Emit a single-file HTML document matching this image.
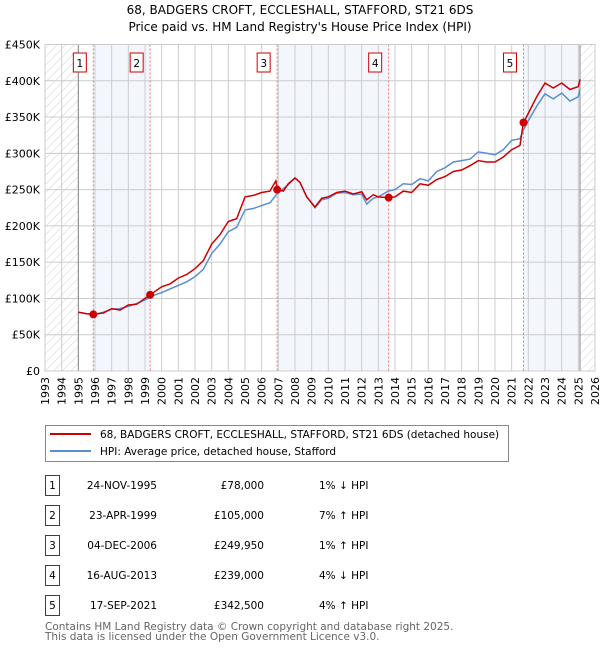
<!DOCTYPE html>
<html><head><meta charset="utf-8"><style>
body{margin:0;background:#fff;font-family:"DejaVu Sans","Liberation Sans",sans-serif;}
svg text{font-family:"DejaVu Sans","Liberation Sans",sans-serif;}
</style></head><body>
<svg id="c" width="600" height="650" xmlns="http://www.w3.org/2000/svg">
<defs><pattern id="hatch" width="6" height="6" patternUnits="userSpaceOnUse" patternTransform="rotate(45)"><line x1="0" y1="0" x2="0" y2="6" stroke="#d0d0d0" stroke-width="1"/></pattern></defs>
<text x="300" y="14" text-anchor="middle" font-size="12">68, BADGERS CROFT, ECCLESHALL, STAFFORD, ST21 6DS</text>
<text x="300" y="31" text-anchor="middle" font-size="12">Price paid vs. HM Land Registry's House Price Index (HPI)</text>
<g id="plot"></g>
<g>
<rect x="45.5" y="425.5" width="463" height="36" fill="#fff" stroke="#888"/>
<line x1="50" y1="434" x2="91" y2="434" stroke="#cc0000" stroke-width="2"/>
<text x="100" y="438" font-size="10.5">68, BADGERS CROFT, ECCLESHALL, STAFFORD, ST21 6DS (detached house)</text>
<line x1="50" y1="451" x2="91" y2="451" stroke="#5b8fd0" stroke-width="2"/>
<text x="100" y="455" font-size="10.5">HPI: Average price, detached house, Stafford</text>
</g>
<g id="tbl" font-size="10.5"></g>
<text x="45" y="630" font-size="10.5" fill="#666">Contains HM Land Registry data © Crown copyright and database right 2025.</text>
<text x="45" y="640" font-size="10.5" fill="#666">This data is licensed under the Open Government Licence v3.0.</text>
</svg>
<script>
const hpiYears=[1995.0,1995.5,1996,1996.5,1997,1997.5,1998,1998.5,1999,1999.5,2000,2000.5,2001,2001.5,2002,2002.5,2003,2003.5,2004,2004.5,2005,2005.5,2006,2006.5,2007,2007.5,2008,2008.3,2008.7,2009.2,2009.6,2010,2010.5,2011,2011.5,2012,2012.3,2012.7,2013,2013.6,2014,2014.5,2015,2015.5,2016,2016.5,2017,2017.5,2018,2018.5,2019,2019.5,2020,2020.5,2021,2021.5,2021.7,2022,2022.5,2023,2023.5,2024,2024.5,2025,2025.1];
const hpiValues=[81,79,78,81,85,86,89,93,98,104,108,113,118,123,130,140,162,175,192,198,222,224,228,232,246,255,266,260,240,225,236,238,245,246,243,244,230,238,240,248,250,258,257,265,262,275,280,288,290,292,302,300,298,305,318,320,332,345,365,382,375,383,372,378,388];
const redYears=[1995.0,1995.5,1995.9,1996.5,1997,1997.5,1998,1998.5,1999.3,2000,2000.5,2001,2001.5,2002,2002.5,2003,2003.5,2004,2004.5,2005,2005.5,2006,2006.5,2006.85,2006.95,2007.3,2007.6,2008,2008.3,2008.7,2009.2,2009.6,2010,2010.5,2011,2011.5,2012,2012.3,2012.7,2013,2013.6,2014,2014.5,2015,2015.5,2016,2016.5,2017,2017.5,2018,2018.5,2019,2019.5,2020,2020.5,2021,2021.5,2021.7,2022,2022.5,2023,2023.5,2024,2024.5,2025,2025.1];
const redValues=[81,79,78,80,86,84,91,92,105,116,120,128,133,141,152,175,188,206,210,240,242,246,248,262,250,248,258,266,260,240,226,238,240,246,248,244,247,236,243,240,239,240,248,246,258,256,264,268,275,277,283,290,288,288,295,305,311,342,355,378,397,390,397,388,392,402];
const saleYears=[1995.9,1999.31,2006.93,2013.62,2021.71];
const saleValues=[78,105,249.95,239,342.5];
const saleLabels=["1","2","3","4","5"];
const saleDates=["24-NOV-1995","23-APR-1999","04-DEC-2006","16-AUG-2013","17-SEP-2021"];
const salePrices=["£78,000","£105,000","£249,950","£239,000","£342,500"];
const saleHpi=["1% ↓ HPI","7% ↑ HPI","1% ↑ HPI","4% ↓ HPI","4% ↑ HPI"];
const yTicks=[0,50,100,150,200,250,300,350,400,450];
const yTickLabels=["£0","£50K","£100K","£150K","£200K","£250K","£300K","£350K","£400K","£450K"];

const X0=45,X1=595,Y0=371,Y1=44.5,xmin=1993,xmax=2026,ymax=450;
const x=v=>X0+(v-xmin)/(xmax-xmin)*(X1-X0);
const y=v=>Y0-v/ymax*(Y0-Y1);
const NS="http://www.w3.org/2000/svg";
const plot=document.getElementById('plot');
function mk(t,a,p){const e=document.createElementNS(NS,t);for(const k in a)e.setAttribute(k,a[k]);(p||plot).appendChild(e);return e;}
[[0,1],[2,3]].forEach(([a,b])=>{const r=mk('rect',{x:x(saleYears[a]),y:Y1,width:x(saleYears[b])-x(saleYears[a]),height:Y0-Y1,fill:'#eef3fc',opacity:0.7});
});
{const r=mk('rect',{x:x(saleYears[4]),y:Y1,width:x(2025.1)-x(saleYears[4]),height:Y0-Y1,fill:'#eef3fc',opacity:0.7});
}
{const h1=mk('rect',{x:X0,y:Y1,width:x(1995)-X0,height:Y0-Y1,fill:'url(#hatch)'});
const h2=mk('rect',{x:x(2025.1),y:Y1,width:X1-x(2025.1),height:Y0-Y1,fill:'url(#hatch)'});}
for(let yr=1993;yr<=2026;yr++){const l=mk('line',{x1:x(yr),x2:x(yr),y1:Y1,y2:Y0,stroke:'#ccc','stroke-width':1});

const t=mk('text',{x:0,y:0,'font-size':11,'text-anchor':'end',transform:`translate(${x(yr)+4},${Y0+6}) rotate(-90)`});t.textContent=yr;
}
yTicks.forEach((v,i)=>{const l=mk('line',{x1:X0,x2:X1,y1:y(v),y2:y(v),stroke:'#ccc','stroke-width':1});

const t=mk('text',{x:X0-5,y:y(v)+4,'font-size':11,'text-anchor':'end'});t.textContent=yTickLabels[i];
});
mk('line',{x1:x(1995),x2:x(1995),y1:Y1,y2:Y0,stroke:'#888'});
mk('line',{x1:x(2025.1),x2:x(2025.1),y1:Y1,y2:Y0,stroke:'#888'});
saleYears.forEach((s,i)=>{const l=mk('line',{x1:x(s),x2:x(s),y1:Y1,y2:Y0,stroke:'#f07070','stroke-dasharray':'2,2','stroke-width':1});

const b=mk('rect',{x:x(s)-20,y:53,width:13,height:19,fill:'#fff',stroke:'#cc0000'});

const t=mk('text',{x:x(s)-13.5,y:67,'font-size':10.5,'text-anchor':'middle'});t.textContent=saleLabels[i];
});
const pts=(xs,vs)=>xs.map((a,i)=>x(a).toFixed(1)+','+y(vs[i]).toFixed(1)).join(' ');
const hp=mk('polyline',{points:pts(hpiYears,hpiValues),fill:'none',stroke:'#5b8fd0','stroke-width':1.5});

const rp=mk('polyline',{points:pts(redYears,redValues),fill:'none',stroke:'#cc0000','stroke-width':1.5});

saleYears.forEach((s,i)=>{const c=mk('circle',{cx:x(s),cy:y(saleValues[i]),r:4,fill:'#cc0000'});
});
mk('rect',{x:X0,y:Y1,width:X1-X0,height:Y0-Y1,fill:'none',stroke:'#ccc'});
const tbl=document.getElementById('tbl');
saleLabels.forEach((lab,i)=>{const yy=483+i*30;
const b=mk('rect',{x:45.5,y:yy-7.5,width:14,height:20,fill:'#fff',stroke:'#cc0000'},tbl);
const t0=mk('text',{x:52.5,y:yy+6,'text-anchor':'middle'},tbl);t0.textContent=lab;
const t1=mk('text',{x:157,y:yy+6,'text-anchor':'end'},tbl);t1.textContent=saleDates[i];
const t2=mk('text',{x:264,y:yy+6,'text-anchor':'end'},tbl);t2.textContent=salePrices[i];
const t3=mk('text',{x:319,y:yy+6},tbl);t3.textContent=saleHpi[i];});
</script>
</body></html>
